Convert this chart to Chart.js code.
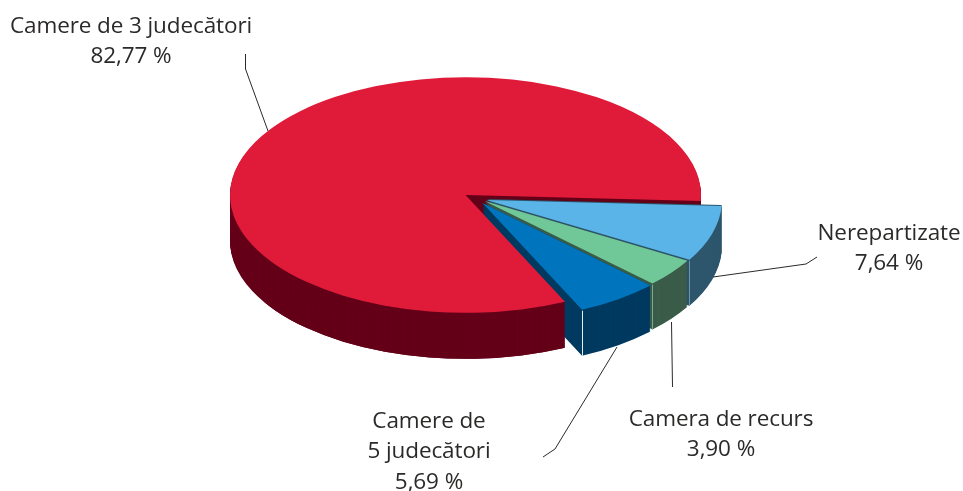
<!DOCTYPE html>
<html>
<head>
<meta charset="utf-8">
<title>Camere</title>
<script src="https://cdn.jsdelivr.net/npm/chart.js@4"></script>
<style>
    html, body { margin: 0; padding: 0; background: #fff; }
    canvas { display: block; }
</style>
</head>
<body>
<canvas id="myChart" width="963" height="491"></canvas>
<script>
// clockwise, starting from the lower edge of the red slice
const categories = [['Camere de 3 judecători'], ['Nerepartizate'], ['Camera de recurs'], ['Camere de', '5 judecători']];
const values = [82.77, 7.64, 3.90, 5.69];
const topColors = ['#e01a39', '#5ab4e8', '#70c797', '#0075bd'];
const wallColors = ['#640018', '#2d566c', '#3a5c49', '#003a60'];
const edgeColors = [null, '#6f95ab', '#7fa88f', '#e6eef3'];

// look of the tilted pie
const squash = 0.5;
const centerY = 195;
const depth = 46;
const shifts = [[0, 0], [21, 5], [19, 6], [17, 8]];

// label centers and first baselines, then leader lines
const labelPlaces = [[131, 33], [889, 240], [721, 426], [429, 428]];
const lineHeight = 30.4;
const leaders = [
    [[245.5, 54], [245.5, 69], [268, 131]],
    [[713, 277], [806, 264], [817, 257]],
    [[671.5, 322], [672.5, 387]],
    [[617, 347], [555, 449], [543, 457]]
];

function drawArc(ctx, arc, index, color, down) {
    const ghost = Object.create(arc);
    ghost.options = Object.assign({}, arc.options, { backgroundColor: color, borderWidth: 0 });
    ctx.save();
    ctx.translate(shifts[index][0], centerY + shifts[index][1] + down);
    ctx.scale(1, squash);
    ctx.translate(0, -arc.y);
    ghost.draw(ctx);
    ctx.restore();
}

function drawWall(ctx, arc, index, from) {
    for (let s = depth; s >= from; s--) {
        drawArc(ctx, arc, index, wallColors[index], s);
    }
}

function outerPoint(arc, index, angle) {
    return {
        x: arc.x + arc.outerRadius * Math.cos(angle) + shifts[index][0],
        y: centerY + squash * arc.outerRadius * Math.sin(angle) + shifts[index][1]
    };
}

const tiltedPie = {
    id: 'tiltedPie',
    beforeDatasetsDraw(chart) {
        const ctx = chart.ctx;
        const arcs = chart.getDatasetMeta(0).data;

        drawWall(ctx, arcs[0], 0, 1);
        drawWall(ctx, arcs[1], 1, -1);
        drawWall(ctx, arcs[2], 2, 0);
        drawWall(ctx, arcs[3], 3, 0);

        // the front of the red wall sits over the cut face of the blue slice
        const corner = outerPoint(arcs[0], 0, arcs[0].startAngle);
        ctx.save();
        ctx.beginPath();
        ctx.rect(0, corner.y, corner.x, chart.height - corner.y);
        ctx.clip();
        drawWall(ctx, arcs[0], 0, 1);
        ctx.restore();

        for (let i = 0; i < arcs.length; i++) {
            drawArc(ctx, arcs[i], i, topColors[i], 0);
        }

        // thin light lines on the wall corners
        ctx.lineWidth = 1;
        for (let i = 1; i < arcs.length; i++) {
            const p = outerPoint(arcs[i], i, arcs[i].endAngle);
            ctx.strokeStyle = edgeColors[i];
            ctx.beginPath();
            ctx.moveTo(Math.round(p.x) + 0.5, p.y + 1);
            ctx.lineTo(Math.round(p.x) + 0.5, p.y + depth);
            ctx.stroke();
        }
        return false;
    },
    afterDraw(chart) {
        const ctx = chart.ctx;
        ctx.save();
        ctx.strokeStyle = '#2b2a29';
        ctx.lineWidth = 1;
        for (const line of leaders) {
            ctx.beginPath();
            line.forEach((p, i) => (i ? ctx.lineTo(p[0], p[1]) : ctx.moveTo(p[0], p[1])));
            ctx.stroke();
        }

        ctx.fillStyle = '#2b2a29';
        ctx.font = '22.5px "Open Sans"';
        ctx.letterSpacing = '-0.1px';
        ctx.textAlign = 'center';
        ctx.textBaseline = 'alphabetic';
        for (let i = 0; i < categories.length; i++) {
            const lines = categories[i].concat(values[i].toFixed(2).replace('.', ',') + ' %');
            lines.forEach((text, n) => {
                ctx.fillText(text, labelPlaces[i][0], labelPlaces[i][1] + n * lineHeight);
            });
        }
        ctx.restore();
    }
};

new Chart(document.getElementById('myChart').getContext('2d'), {
    type: 'pie',
    data: {
        labels: categories.map(c => c.join(' ')),
        datasets: [{
            data: values,
            backgroundColor: topColors,
            borderWidth: 0
        }]
    },
    options: {
        responsive: false,
        animation: false,
        rotation: 155,
        layout: { padding: { left: 230, right: 262, top: 10, bottom: 10 } },
        plugins: { legend: { display: false }, tooltip: { enabled: false } }
    },
    plugins: [tiltedPie]
});
</script>
</body>
</html>
